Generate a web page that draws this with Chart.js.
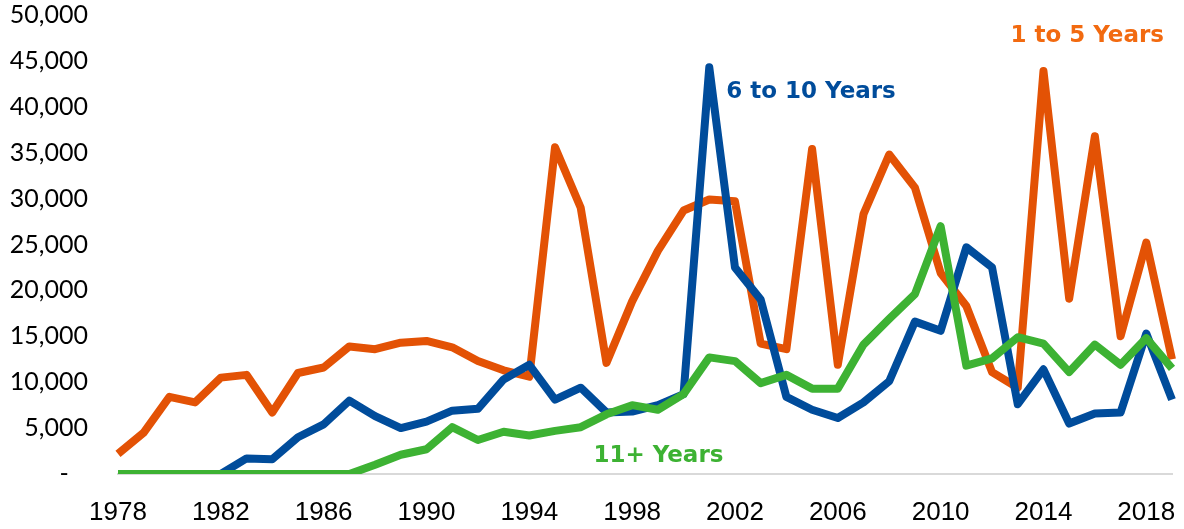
<!DOCTYPE html>
<html>
<head>
<meta charset="utf-8">
<script src="https://cdn.jsdelivr.net/npm/chart.js@4/dist/chart.umd.min.js"></script>
<style>
  html, body { margin: 0; padding: 0; background: #fff; }
  #wrap { width: 1184px; height: 529px; }
</style>
</head>
<body>
<div id="wrap"><canvas id="tenure"></canvas></div>
<script>
// years 1978 - 2019
const years = [];
for (let y = 1978; y <= 2019; y++) years.push(String(y));

const oneToFive = [2200, 4500, 8400, 7800, 10500, 10800, 6700, 11000, 11600, 13900,
  13600, 14300, 14500, 13800, 12300, 11300, 10600, 35600, 29000, 12100,
  18800, 24300, 28700, 29900, 29700, 14200, 13600, 35400, 11900, 28300,
  34800, 31200, 21900, 18300, 11100, 9400, 43900, 19100, 36800, 15000,
  25200, 12500];

const sixToTen = [0, 0, 0, 0, 0, 1700, 1600, 4000, 5400, 8000,
  6300, 5000, 5700, 6900, 7100, 10300, 11900, 8100, 9400, 6700,
  6800, 7500, 8700, 44300, 22500, 19000, 8400, 7000, 6100, 7800,
  10100, 16600, 15600, 24700, 22500, 7600, 11400, 5500, 6600, 6700,
  15300, 8100];

const elevenPlus = [0, 0, 0, 0, 0, 0, 0, 0, 0, 0,
  1000, 2100, 2700, 5100, 3700, 4600, 4200, 4700, 5100, 6500,
  7500, 7000, 8700, 12700, 12300, 9900, 10800, 9300, 9300, 14100,
  16900, 19600, 27000, 11800, 12600, 14900, 14200, 11100, 14100, 11900,
  14800, 11500];

const yTicks = [0, 5000, 10000, 15000, 20000, 25000, 30000, 35000, 40000, 45000, 50000];

// series labels: text, anchor year index, anchor value
const seriesLabels = [
  { text: "1 to 5 Years", idx: 41, val: 47700, dx: -8, align: "right", color: "#F26A10" },
  { text: "6 to 10 Years", idx: 23, val: 41600, dx: 17, align: "left", color: "#004C9B" },
  { text: "11+ Years", idx: 19, val: 2000, dx: -13, align: "left", color: "#3DB233" }
];

const labelPlugin = {
  id: "seriesLabels",
  afterDatasetsDraw(chart) {
    const ctx = chart.ctx;
    const xs = chart.scales.x, ys = chart.scales.y;
    ctx.save();
    ctx.font = "bold 23px 'DejaVu Sans', sans-serif";
    ctx.textBaseline = "middle";
    seriesLabels.forEach(l => {
      ctx.fillStyle = l.color;
      ctx.textAlign = l.align;
      ctx.fillText(l.text, xs.getPixelForValue(l.idx) + l.dx, ys.getPixelForValue(l.val));
    });
    ctx.restore();
  }
};

const ctx = document.getElementById("tenure").getContext("2d");
new Chart(ctx, {
  type: "line",
  data: {
    labels: years,
    datasets: [
      { label: "11+ Years", data: elevenPlus, borderColor: "#3DB233", order: 1 },
      { label: "6 to 10 Years", data: sixToTen, borderColor: "#004C9B", order: 2 },
      { label: "1 to 5 Years", data: oneToFive, borderColor: "#E35205", order: 3 }
    ]
  },
  options: {
    responsive: true,
    maintainAspectRatio: false,
    animation: false,
    layout: { padding: { top: 15, right: 12, left: 0, bottom: 0 } },
    elements: {
      line: { borderWidth: 8, tension: 0, borderJoinStyle: "round", borderCapStyle: "butt", fill: false },
      point: { radius: 0 }
    },
    plugins: {
      legend: { display: false },
      tooltip: { enabled: false }
    },
    scales: {
      x: {
        grid: { display: false },
        border: { display: true, color: "#D9D9D9", width: 2 },
        ticks: {
          autoSkip: false,
          maxRotation: 0,
          color: "#000",
          font: { family: "'Liberation Sans', Arial, sans-serif", size: 26 },
          padding: 15,
          callback: function (v, i) {
            return (i % 4 === 0) ? years[i] : "";
          }
        },
        afterFit: s => { s.height = 55; s.paddingLeft = 0; s.paddingRight = 0; }
      },
      y: {
        min: 0,
        max: 50000,
        grid: { display: false },
        border: { display: false },
        afterBuildTicks: s => { s.ticks = yTicks.map(v => ({ value: v })); },
        afterFit: s => { s.width = 118; s.paddingTop = 0; s.paddingBottom = 0; },
        ticks: {
          color: "#000",
          padding: 22,
          font: { family: "Lato, 'Open Sans', sans-serif", size: 25 },
          // accounting style: zero shown as a dash set in from the right
          callback: v => v === 0 ? "-   " : v.toLocaleString("en-US")
        }
      }
    }
  },
  plugins: [labelPlugin]
});
</script>
</body>
</html>
